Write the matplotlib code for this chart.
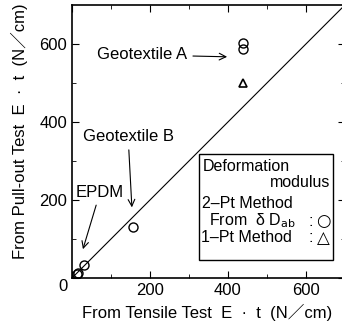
import matplotlib
matplotlib.use('Agg')
import matplotlib.pyplot as plt
from matplotlib.patches import Rectangle

plt.rcParams['font.family'] = ['Liberation Sans', 'Noto Sans CJK JP', 'DejaVu Sans']

# 2-Pt method (circles)
circ_x = [438, 438, 157, 30, 16, 12]
circ_y = [602, 588, 131, 33, 14, 10]
# 1-Pt method (triangles)
tri_x = [438]
tri_y = [500]

line_x = [0, 700]
line_y = [0, 700]

fig = plt.figure(figsize=(3.42, 3.24), dpi=100)
ax = fig.add_axes([0.2105, 0.142, 0.798, 0.8426])

ax.plot(line_x, line_y, color='black', linewidth=0.8)
ax.plot(circ_x, circ_y, linestyle='none', marker='o', markersize=6.5,
        markerfacecolor='none', markeredgecolor='black', markeredgewidth=1.0)
ax.plot(tri_x, tri_y, linestyle='none', marker='^', markersize=6,
        markerfacecolor='none', markeredgecolor='black', markeredgewidth=1.2)

ax.set_xlim(0, 700)
ax.set_ylim(0, 700)
ax.set_xticks([0, 200, 400, 600])
ax.set_xticklabels(['', '200', '400', '600'])
ax.set_yticks([0, 200, 400, 600])
ax.set_yticklabels(['', '200', '400', '600'])
ax.set_xticks([100, 300, 500], minor=True)
ax.set_yticks([100, 300, 500], minor=True)
ax.tick_params(which='both', direction='in', top=True, right=True, labelsize=12)
ax.tick_params(which='major', length=5)
ax.tick_params(which='minor', length=3)
for s in ax.spines.values():
    s.set_linewidth(1.2)
ax.text(-22, -22, '0', fontsize=12, ha='center', va='center', clip_on=False)

fig.text(0.606, 0.037, 'From Tensile Test  E  \u00b7  t  (N\uff0fcm)', fontsize=12,
         ha='center', va='center')
fig.text(0.058, 0.596, 'From Pull-out Test  E  \u00b7  t  (N\uff0fcm)', fontsize=12,
         ha='center', va='center', rotation=90)

ap = dict(arrowstyle='->', color='black', linewidth=0.8)
ax.annotate('Geotextile A', xy=(405, 567), xytext=(296, 572), fontsize=12,
            ha='right', va='center', arrowprops=ap)
ax.annotate('Geotextile B', xy=(154, 174), xytext=(144, 362), fontsize=12,
            ha='center', va='center', arrowprops=ap)
ax.annotate('EPDM', xy=(26, 67), xytext=(72, 220), fontsize=12,
            ha='center', va='center', arrowprops=ap)

# legend box
ax.add_patch(Rectangle((326, 46), 343, 272, facecolor='white', edgecolor='black',
                       linewidth=1.0, zorder=3))
kw = dict(fontsize=11.5, va='center', zorder=4)
ax.text(336, 285, 'Deformation', ha='left', **kw)
ax.text(662, 246, 'modulus', ha='right', **kw)
ax.text(333, 190, '2\u2013Pt Method', ha='left', **kw)
ax.text(352, 146, 'From  \u03b4 D$_{\\rm ab}$', ha='left', **kw)
ax.text(330, 103, '1\u2013Pt Method', ha='left', **kw)
ax.text(612, 146, ':', ha='center', **kw)
ax.text(612, 103, ':', ha='center', **kw)
ax.text(645, 146, '\u25cb', ha='center', fontsize=12, va='center', zorder=4,
        family=['DejaVu Sans'])
ax.text(645, 103, '\u25b3', ha='center', fontsize=12, va='center', zorder=4,
        family=['DejaVu Sans'])

fig.savefig('out.png', dpi=100)
